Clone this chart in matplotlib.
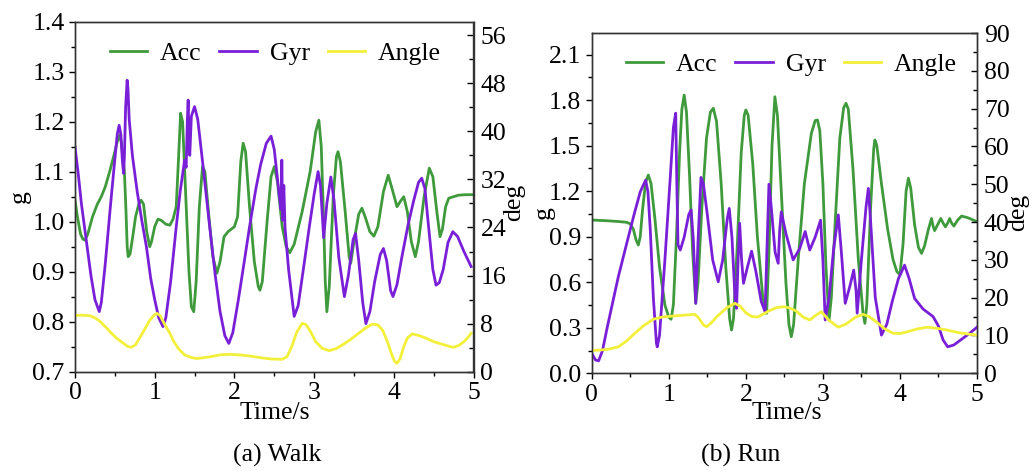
import matplotlib

matplotlib.use("Agg")
import matplotlib.pyplot as plt
from matplotlib.ticker import MultipleLocator, FormatStrFormatter
from matplotlib.lines import Line2D

# ---- (a) Walk ----
walk_acc_t = [0.00, 0.03, 0.07, 0.10, 0.125, 0.16, 0.22, 0.28, 0.33, 0.38, 0.44, 0.50,
              0.53, 0.56, 0.58, 0.60, 0.62, 0.64, 0.655, 0.667, 0.69, 0.72, 0.76, 0.80,
              0.83, 0.86, 0.90, 0.938, 0.96, 1.00, 1.04, 1.08, 1.14, 1.19, 1.23, 1.27,
              1.30, 1.325, 1.35, 1.39, 1.43, 1.46, 1.49, 1.52, 1.56, 1.60, 1.63, 1.68,
              1.73, 1.78, 1.82, 1.87, 1.92, 2.00, 2.04, 2.08, 2.11, 2.14, 2.19, 2.25,
              2.30, 2.32, 2.35, 2.41, 2.46, 2.50, 2.54, 2.60, 2.65, 2.695, 2.75, 2.85,
              2.95, 3.02, 3.06, 3.09, 3.12, 3.14, 3.16, 3.19, 3.24, 3.28, 3.30, 3.33,
              3.39, 3.44, 3.46, 3.50, 3.56, 3.60, 3.64, 3.70, 3.75, 3.80, 3.87, 3.93,
              3.98, 4.04, 4.08, 4.125, 4.17, 4.22, 4.27, 4.31, 4.38, 4.445, 4.49, 4.54,
              4.58, 4.61, 4.65, 4.69, 4.75, 4.81, 4.90, 5.00]
walk_acc = [1.043, 1.01, 0.975, 0.965, 0.963, 0.975, 1.01, 1.035, 1.05, 1.07, 1.103, 1.14,
            1.16, 1.173, 1.16, 1.13, 1.10, 1.02, 0.95, 0.93, 0.935, 0.965, 1.01, 1.035,
            1.043, 1.035, 0.98, 0.95, 0.96, 0.99, 1.005, 1.003, 0.995, 0.993, 1.005, 1.03,
            1.13, 1.217, 1.20, 1.05, 0.90, 0.83, 0.82, 0.88, 1.03, 1.11, 1.10, 1.01,
            0.93, 0.897, 0.92, 0.97, 0.98, 0.99, 1.01, 1.12, 1.157, 1.14, 1.03, 0.92,
            0.87, 0.863, 0.88, 1.00, 1.09, 1.11, 1.08, 0.99, 0.95, 0.938, 0.955, 1.02,
            1.10, 1.18, 1.203, 1.15, 1.00, 0.88, 0.82, 0.87, 1.05, 1.13, 1.14, 1.12,
            1.02, 0.93, 0.917, 0.96, 1.015, 1.027, 1.01, 0.98, 0.971, 0.99, 1.06, 1.093,
            1.065, 1.03, 1.04, 1.05, 1.02, 0.96, 0.93, 0.96, 1.05, 1.107, 1.09, 1.02,
            0.97, 0.985, 1.03, 1.047, 1.05, 1.053, 1.054, 1.054]

walk_gyr_t = [0.00, 0.04, 0.08, 0.146, 0.20, 0.25, 0.304, 0.33, 0.38, 0.44, 0.49, 0.53,
              0.554, 0.575, 0.595, 0.61, 0.62, 0.635, 0.654, 0.665, 0.68, 0.72, 0.78, 0.84,
              0.896, 0.95, 1.00, 1.05, 1.104, 1.14, 1.20, 1.27, 1.32, 1.375, 1.395, 1.41,
              1.42, 1.43, 1.44, 1.46, 1.50, 1.54, 1.60, 1.69, 1.76, 1.82, 1.88, 1.93,
              1.98, 2.05, 2.12, 2.19, 2.27, 2.33, 2.40, 2.46, 2.50, 2.56, 2.585, 2.595,
              2.605, 2.62, 2.635, 2.68, 2.75, 2.80, 2.87, 2.94, 3.00, 3.05, 3.08, 3.12,
              3.16, 3.21, 3.25, 3.31, 3.38, 3.43, 3.49, 3.52, 3.56, 3.61, 3.65, 3.70,
              3.76, 3.83, 3.87, 3.91, 3.96, 3.99, 4.04, 4.10, 4.18, 4.25, 4.31, 4.35,
              4.39, 4.43, 4.49, 4.53, 4.57, 4.62, 4.68, 4.74, 4.80, 4.88, 4.97]
walk_gyr = [37.4, 33, 28, 21.4, 16, 12, 10.0, 11.5, 18, 26.9, 34, 39.5,
            41.0, 39.5, 35, 33, 36, 44, 48.5, 47, 42, 36, 30, 25,
            20.8, 15.5, 12, 9, 7.5, 9, 15, 24.1, 30, 35.2, 34, 42,
            45.2, 38, 36, 42.5, 44.1, 42, 35, 24.1, 16, 10, 6, 4.7,
            6.5, 12, 18, 24.1, 30.5, 34.5, 38, 39.2, 37, 29.7, 27, 35.2,
            25.2, 31, 24, 17, 9.2, 11, 17.5, 24.1, 29.5, 33.3, 31, 22.3,
            28, 32.4, 28.5, 19, 12.5, 16, 22, 23.0, 18.5, 11.5, 8.0, 10,
            15, 19.5, 20.5, 18.5, 13.5, 12.5, 14.5, 19, 24.5, 28.5, 31.5, 32.2,
            30.5, 25, 17, 14.4, 14.8, 17, 21.5, 23.3, 22.5, 20, 17.5]

walk_ang_t = [0.00, 0.10, 0.19, 0.26, 0.31, 0.38, 0.45, 0.52, 0.60, 0.66, 0.708, 0.76,
              0.82, 0.88, 0.94, 1.00, 1.03, 1.07, 1.12, 1.19, 1.24, 1.30, 1.375, 1.45,
              1.52, 1.60, 1.70, 1.82, 1.94, 2.06, 2.20, 2.34, 2.48, 2.60, 2.66, 2.72,
              2.78, 2.85, 2.90, 2.95, 3.02, 3.10, 3.19, 3.27, 3.35, 3.45, 3.55, 3.65,
              3.73, 3.80, 3.86, 3.92, 3.97, 4.01, 4.04, 4.08, 4.12, 4.17, 4.23, 4.32,
              4.40, 4.50, 4.60, 4.70, 4.75, 4.82, 4.88, 4.93, 4.97]
walk_ang = [9.4, 9.4, 9.3, 8.9, 8.4, 7.5, 6.5, 5.6, 4.8, 4.2, 4.06, 4.5,
            5.8, 7.2, 8.6, 9.5, 9.7, 9.3, 8.0, 6.4, 5.0, 3.8, 2.8, 2.4,
            2.2, 2.3, 2.5, 2.8, 2.9, 2.8, 2.6, 2.3, 2.1, 2.06, 2.5, 4.2,
            6.5, 8.05, 7.8, 6.8, 5.0, 3.9, 3.5, 3.8, 4.4, 5.3, 6.3, 7.3,
            7.9, 7.8, 6.9, 5.0, 3.0, 1.7, 1.4, 2.2, 4.0, 5.6, 6.3, 6.0,
            5.6, 5.0, 4.6, 4.2, 4.06, 4.4, 5.0, 5.7, 6.4]

# ---- (b) Run ----
run_acc_t = [0.00, 0.20, 0.345, 0.45, 0.50, 0.54, 0.575, 0.605, 0.63, 0.66, 0.70, 0.735,
             0.77, 0.82, 0.88, 0.95, 1.00, 1.03, 1.06, 1.10, 1.14, 1.17, 1.20, 1.23,
             1.27, 1.31, 1.35, 1.38, 1.43, 1.49, 1.54, 1.578, 1.62, 1.68, 1.74, 1.79,
             1.815, 1.84, 1.89, 1.94, 1.98, 2.00, 2.03, 2.09, 2.15, 2.22, 2.27, 2.30,
             2.34, 2.377, 2.41, 2.46, 2.52, 2.56, 2.59, 2.62, 2.68, 2.76, 2.85, 2.90,
             2.93, 2.96, 3.00, 3.04, 3.08, 3.11, 3.16, 3.22, 3.27, 3.30, 3.33, 3.39,
             3.46, 3.52, 3.545, 3.57, 3.62, 3.66, 3.675, 3.70, 3.76, 3.84, 3.91, 3.96,
             4.00, 4.04, 4.08, 4.11, 4.14, 4.19, 4.24, 4.28, 4.32, 4.37, 4.41, 4.43,
             4.45, 4.49, 4.53, 4.56, 4.59, 4.62, 4.645, 4.67, 4.70, 4.75, 4.80, 4.88,
             4.95, 5.00]
run_acc = [1.01, 1.005, 1.00, 0.995, 0.985, 0.95, 0.88, 0.845, 0.90, 1.08, 1.26, 1.306,
           1.25, 1.02, 0.70, 0.45, 0.37, 0.356, 0.45, 0.90, 1.45, 1.74, 1.833, 1.72,
           1.30, 0.80, 0.461, 0.60, 1.10, 1.55, 1.72, 1.746, 1.66, 1.25, 0.70, 0.36,
           0.285, 0.36, 0.85, 1.45, 1.70, 1.735, 1.70, 1.38, 0.90, 0.50, 0.395, 0.80,
           1.50, 1.822, 1.70, 1.20, 0.60, 0.32, 0.241, 0.32, 0.75, 1.25, 1.58, 1.665,
           1.669, 1.60, 1.25, 0.70, 0.351, 0.50, 1.00, 1.55, 1.75, 1.779, 1.74, 1.35,
           0.75, 0.40, 0.329, 0.45, 1.10, 1.48, 1.537, 1.50, 1.25, 0.95, 0.75, 0.67,
           0.65, 0.85, 1.20, 1.285, 1.22, 0.98, 0.83, 0.79, 0.84, 0.95, 1.02, 0.97,
           0.94, 0.98, 1.02, 0.99, 0.965, 0.99, 1.02, 0.99, 0.97, 1.01, 1.036, 1.025,
           1.01, 0.999]

run_gyr_t = [0.00, 0.05, 0.09, 0.14, 0.20, 0.345, 0.45, 0.55, 0.63, 0.70, 0.73, 0.76,
             0.80, 0.84, 0.85, 0.88, 0.95, 1.02, 1.06, 1.09, 1.105, 1.12, 1.15, 1.20,
             1.26, 1.29, 1.32, 1.35, 1.38, 1.418, 1.45, 1.50, 1.57, 1.642, 1.70, 1.76,
             1.785, 1.82, 1.86, 1.88, 1.90, 1.92, 1.945, 1.97, 2.02, 2.075, 2.13, 2.20,
             2.25, 2.27, 2.30, 2.33, 2.38, 2.42, 2.44, 2.46, 2.52, 2.614, 2.70, 2.77,
             2.80, 2.83, 2.90, 2.97, 3.00, 3.03, 3.08, 3.14, 3.20, 3.24, 3.29, 3.35,
             3.40, 3.43, 3.445, 3.50, 3.56, 3.59, 3.62, 3.68, 3.76, 3.83, 3.90, 3.98,
             4.06, 4.12, 4.19, 4.30, 4.43, 4.50, 4.56, 4.62, 4.70, 4.80, 4.90, 5.00]
run_gyr = [5.3, 3.5, 3.3, 6, 12, 25.5, 34, 42, 48, 51.1, 48, 38,
           20, 8, 7.0, 10, 30, 52, 65, 68.8, 50, 34, 32.6, 36,
           42, 43.2, 35, 18.5, 35, 51.8, 50, 42, 30, 24.2, 30, 41,
           43.6, 36, 20, 17.2, 30, 39.7, 30, 23.8, 28, 32.3, 27, 19,
           16.3, 30, 50.0, 44, 32, 29.1, 38, 42.7, 37, 30.0, 33, 37.5,
           35, 32.6, 36, 40.5, 30, 14.1, 20, 33, 41.9, 32, 18.5, 23,
           27.3, 22, 15.9, 30, 44, 48.9, 40, 20, 10.1, 13, 19, 25,
           28.6, 25, 19.8, 17, 15.0, 12.5, 8.8, 7.0, 7.5, 9, 10.5, 12.2]

run_ang_t = [0.00, 0.20, 0.345, 0.45, 0.56, 0.68, 0.80, 0.92, 1.04, 1.20, 1.34, 1.39,
             1.45, 1.49, 1.55, 1.62, 1.75, 1.86, 1.93, 2.00, 2.08, 2.16, 2.30, 2.40,
             2.50, 2.58, 2.65, 2.75, 2.83, 2.90, 2.98, 3.08, 3.20, 3.30, 3.42, 3.52,
             3.60, 3.70, 3.80, 3.91, 4.00, 4.10, 4.22, 4.35, 4.48, 4.60, 4.75, 4.88,
             5.00]
run_ang = [6.0, 6.3, 7.0, 8.5, 10.6, 12.7, 14.3, 14.9, 15.1, 15.4, 15.6, 14.6,
           12.8, 12.3, 13.3, 14.9, 17.3, 18.5, 17.7, 16.0, 15.0, 14.9, 16.5, 17.4,
           17.6, 17.2, 16.5, 14.8, 14.1, 15.2, 16.3, 14.0, 12.2, 13.0, 14.8, 15.6,
           15.0, 13.5, 11.8, 10.6, 10.5, 11.0, 11.7, 12.2, 11.9, 11.5, 10.8, 10.4,
           10.1]

GREEN = "#3f9a3c"
PURPLE = "#7a1fd8"
YELLOW = "#f2f03a"
FS = 18.5

plt.rcParams["font.family"] = ["Liberation Serif", "DejaVu Serif"]
plt.rcParams["font.size"] = FS

W, H = 1035, 471
fig = plt.figure(figsize=(W / 100, H / 100), dpi=100)


def px_box(x0, y0, x1, y1):
    return [x0 / W, 1 - y1 / H, (x1 - x0) / W, (y1 - y0) / H]


def draw_panel(box, acc_t, acc, gyr_t, gyr, ang_t, ang, glim, gstep, dlim, dstep, leg_pos):
    ax = fig.add_axes(px_box(*box))
    ax2 = ax.twinx()
    ax.plot(acc_t, acc, color=GREEN, lw=2)
    ax2.plot(gyr_t, gyr, color=PURPLE, lw=2)
    ax2.plot(ang_t, ang, color=YELLOW, lw=2)

    ax.set_xlim(0, 5)
    ax.set_ylim(*glim)
    ax2.set_ylim(*dlim)
    ax.xaxis.set_major_locator(MultipleLocator(1))
    ax.xaxis.set_minor_locator(MultipleLocator(0.5))
    ax.yaxis.set_major_locator(MultipleLocator(gstep))
    ax.yaxis.set_minor_locator(MultipleLocator(gstep / 2))
    ax.yaxis.set_major_formatter(FormatStrFormatter("%.1f"))
    ax2.yaxis.set_major_locator(MultipleLocator(dstep))
    ax2.yaxis.set_minor_locator(MultipleLocator(dstep / 2))

    ax.tick_params(which="both", direction="out", top=False, right=False,
                   labelsize=FS, pad=3, width=1)
    ax.tick_params(which="major", length=4.5)
    ax.tick_params(which="minor", length=3)
    ax2.tick_params(which="both", direction="in", labelsize=FS, pad=5, width=1)
    ax2.tick_params(which="major", length=4.5)
    ax2.tick_params(which="minor", length=3)
    for a in (ax, ax2):
        for s in a.spines.values():
            s.set_linewidth(1.0)
            s.set_color("#333333")

    handles = [Line2D([], [], color=GREEN, lw=2),
               Line2D([], [], color=PURPLE, lw=2),
               Line2D([], [], color=YELLOW, lw=2)]
    ax2.legend(handles, ["Acc", "Gyr", "Angle"], ncol=3, frameon=False,
               loc="center left", bbox_to_anchor=leg_pos, borderpad=0,
               handlelength=1.45, handletextpad=0.5, columnspacing=0.7,
               fontsize=FS)
    return ax, ax2


draw_panel((75, 21.7, 473.5, 371.7), walk_acc_t, walk_acc, walk_gyr_t, walk_gyr,
           walk_ang_t, walk_ang, (0.7, 1.4), 0.1, (0, 58.24), 8, (0.055, 0.91))
draw_panel((591.7, 33, 977, 373.3), run_acc_t, run_acc, run_gyr_t, run_gyr,
           run_ang_t, run_ang, (0.0, 2.242), 0.3, (0, 90), 10, (0.055, 0.906))


def ftext(x, y, s, **kw):
    fig.text(x / W, 1 - y / H, s, ha="center", va="center", fontsize=FS, **kw)


ftext(20, 197, "g", rotation=90)
ftext(514, 202, "deg", rotation=90)
ftext(544, 213, "g", rotation=90)
ftext(1018, 212, "deg", rotation=90)
ftext(275, 413, "Time/s")
ftext(787, 413, "Time/s")
ftext(277, 455, "(a) Walk")
ftext(741, 455, "(b) Run")

fig.savefig("out.png", dpi=100)
